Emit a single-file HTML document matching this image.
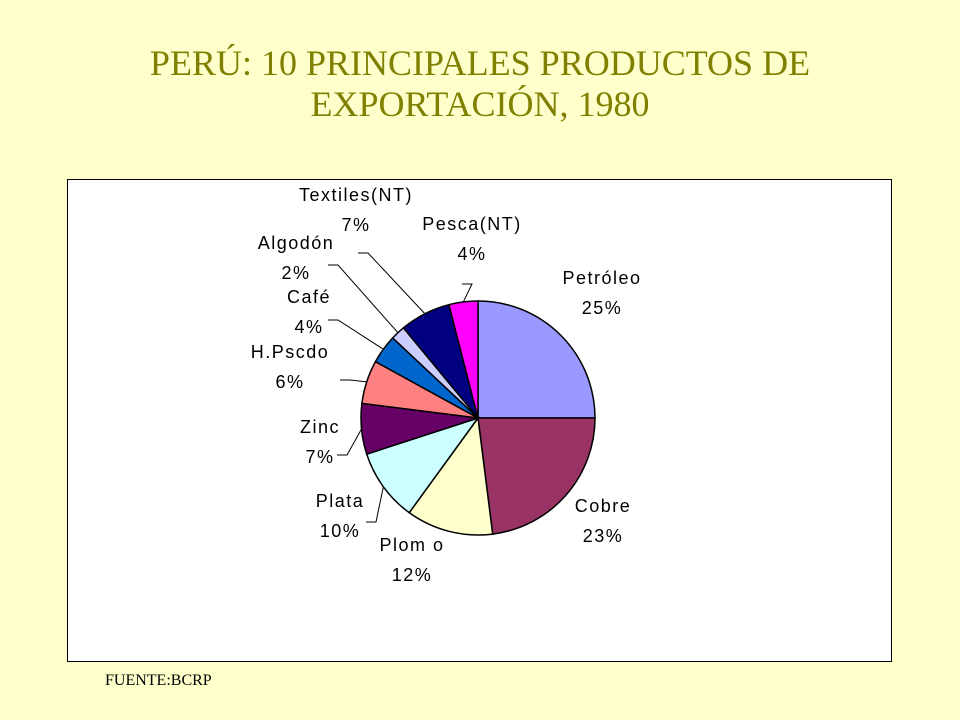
<!DOCTYPE html>
<html><head><meta charset="utf-8"><style>
body{margin:0;width:960px;height:720px;background:#ffffcc;position:relative;overflow:hidden;font-family:"Liberation Serif",serif}
.t{position:absolute;left:0;width:960px;text-align:center;color:#808000;font-size:36px}
#box{position:absolute;left:67px;top:179px;width:823px;height:481px;background:#fff;border:1px solid #000}
#src{position:absolute;left:105px;top:672px;font-size:16px;color:#000}
</style></head><body>
<div class="t" style="top:42px">PERÚ: 10 PRINCIPALES PRODUCTOS DE</div>
<div class="t" style="top:83px">EXPORTACIÓN, 1980</div>
<div id="box"></div>
<svg id="svg" width="960" height="720" style="position:absolute;left:0;top:0"></svg>
<div id="src">FUENTE:BCRP</div>
<script>
const categories=["Petróleo","Cobre","Plom o","Plata","Zinc","H.Pscdo","Café","Algodón","Textiles(NT)","Pesca(NT)"];
const values=[25,23,12,10,7,6,4,2,7,4];
const colors=["#9999ff","#993366","#ffffcc","#ccffff","#660066","#ff8080","#0066cc","#ccccff","#000080","#ff00ff"];
const labelPos=[[602,284],[603,512],[412,551],[340,507],[320,433],[290,358],[309,303],[296,249],[356,201],[472,230]];
const leaderFrom=[null,null,null,[376,522],[347,455],[350,380],[338,320],[338,265],[368,253],[472,284]];
const cx=478,cy=418,r=117,ns="http://www.w3.org/2000/svg";
const svg=document.getElementById('svg');
const total=values.reduce((a,b)=>a+b,0);
function pt(a,rr){return [cx+rr*Math.sin(a),cy-rr*Math.cos(a)];}
let a0=0;
values.forEach((v,i)=>{
 const a1=a0+v/total*2*Math.PI;
 const p0=pt(a0,r),p1=pt(a1,r);
 const path=document.createElementNS(ns,'path');
 path.setAttribute('d',`M${cx},${cy}L${p0[0]},${p0[1]}A${r},${r} 0 ${a1-a0>Math.PI?1:0} 1 ${p1[0]},${p1[1]}Z`);
 path.setAttribute('fill',colors[i]);path.setAttribute('stroke','#000');path.setAttribute('stroke-width','1.5');
 
 
 svg.appendChild(path);
 const mid=(a0+a1)/2;
 if(leaderFrom[i]){
  const e=pt(mid,r),f=leaderFrom[i];
  const l=document.createElementNS(ns,'polyline');
  l.setAttribute('points',`${f[0]-10},${f[1]} ${f[0]},${f[1]} ${e[0]},${e[1]}`);
  l.setAttribute('fill','none');l.setAttribute('stroke','#000');l.setAttribute('stroke-width','1');
  
  
  svg.appendChild(l);
 }
 const [lx,ly]=labelPos[i];
 [categories[i],Math.round(v/total*100)+'%'].forEach((s,k)=>{
  const t=document.createElementNS(ns,'text');
  t.setAttribute('x',lx);t.setAttribute('y',ly+k*30);
  t.setAttribute('text-anchor','middle');
  t.setAttribute('font-family','Liberation Sans, sans-serif');t.setAttribute('font-size','18');
  t.setAttribute('letter-spacing','1.5');
  t.textContent=s;
  
  
  svg.appendChild(t);
 });
 a0=a1;
});
</script>
</body></html>
